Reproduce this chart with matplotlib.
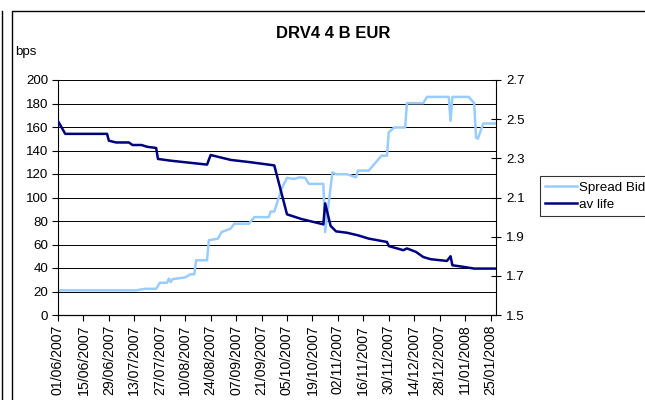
import pandas as pd
import matplotlib
matplotlib.use("Agg")
import matplotlib.pyplot as plt
import matplotlib.dates as mdates
from matplotlib.patches import Rectangle
from matplotlib.lines import Line2D

plt.rcParams['font.family'] = ['Liberation Sans', 'DejaVu Sans']

# Spread Bid (left axis, bps)
spread_dates = ["2007-06-01", "2007-07-14", "2007-07-19", "2007-07-25", "2007-07-27",
                "2007-07-31", "2007-08-01", "2007-08-02", "2007-08-03", "2007-08-10",
                "2007-08-13", "2007-08-15", "2007-08-16", "2007-08-22", "2007-08-23",
                "2007-08-28", "2007-08-30", "2007-09-04", "2007-09-06", "2007-09-14",
                "2007-09-17", "2007-09-25", "2007-09-26", "2007-09-28", "2007-10-02",
                "2007-10-05", "2007-10-09", "2007-10-12", "2007-10-15", "2007-10-17",
                "2007-10-25", "2007-10-26", "2007-10-30", "2007-11-01", "2007-11-07",
                "2007-11-12", "2007-11-13", "2007-11-19", "2007-11-26", "2007-11-29",
                "2007-11-30", "2007-12-03", "2007-12-09", "2007-12-10", "2007-12-19",
                "2007-12-21", "2008-01-02", "2008-01-03", "2008-01-04", "2008-01-13",
                "2008-01-16", "2008-01-17", "2008-01-18", "2008-01-21", "2008-01-28"]
spread_bid = [21, 21, 22.3, 22.3, 27.4,
              27.5, 31, 28, 30.5, 32,
              34.7, 34.7, 46.6, 46.6, 63.6,
              65, 70.6, 73.5, 77.7, 77.7,
              83.3, 83.3, 88, 88, 107.3,
              116.7, 115.8, 117.2, 116.7, 111.6,
              111.6, 70.6, 121.5, 119.8, 119.8,
              117.2, 122.9, 122.9, 135.6, 135.6,
              155.4, 159.6, 159.6, 180.3, 180.3,
              185.6, 185.6, 165.3, 185.6, 185.6,
              180.3, 151.1, 150, 163, 163]

# av life (right axis)
life_dates = ["2007-06-01", "2007-06-05", "2007-06-28", "2007-06-29", "2007-07-03",
              "2007-07-10", "2007-07-12", "2007-07-17", "2007-07-20", "2007-07-25",
              "2007-07-26", "2007-08-02", "2007-08-22", "2007-08-24", "2007-09-04",
              "2007-09-15", "2007-09-28", "2007-10-05", "2007-10-13", "2007-10-25",
              "2007-10-26", "2007-10-29", "2007-11-01", "2007-11-07", "2007-11-13",
              "2007-11-19", "2007-11-29", "2007-11-30", "2007-12-08", "2007-12-10",
              "2007-12-15", "2007-12-19", "2007-12-23", "2008-01-01", "2008-01-03",
              "2008-01-04", "2008-01-10", "2008-01-16", "2008-01-28"]
av_life = [2.49, 2.425, 2.425, 2.39, 2.381,
           2.381, 2.368, 2.368, 2.359, 2.353,
           2.297, 2.288, 2.268, 2.317, 2.292,
           2.28, 2.264, 2.014, 1.99, 1.963,
           2.07, 1.955, 1.927, 1.92, 1.907,
           1.89, 1.873, 1.852, 1.831, 1.84,
           1.822, 1.796, 1.785, 1.776, 1.80,
           1.754, 1.746, 1.737, 1.737]

left_ticks = list(range(0, 201, 20))
right_ticks = [1.5, 1.7, 1.9, 2.1, 2.3, 2.5, 2.7]
date_ticks = pd.date_range("2007-06-01", "2008-01-25", freq="14D")

W, H = 645, 400
fig = plt.figure(figsize=(W / 100, H / 100), dpi=100)
ax = fig.add_axes([58 / W, 1 - 315 / H, (496 - 58) / W, (315 - 80) / H])

ax.plot(pd.to_datetime(spread_dates), spread_bid, color="#99CCFF", lw=1.8, label="Spread Bid")
ax.set_ylim(0, 200)
ax.set_yticks(left_ticks)
ax.set_xlim(pd.Timestamp("2007-06-01"), pd.Timestamp("2008-01-28"))
ax.set_xticks(date_ticks)
ax.xaxis.set_major_formatter(mdates.DateFormatter("%d/%m/%Y"))
ax.yaxis.grid(True, color="black", lw=0.7)
ax.set_axisbelow(True)
for s in ["top", "right"]:
    ax.spines[s].set_visible(False)
ax.tick_params(axis="y", direction="out", length=4, labelsize=9.6, pad=3)
ax.tick_params(axis="x", direction="out", length=4, labelsize=10.2, rotation=90, pad=3)

ax2 = ax.twinx()
ax2.plot(pd.to_datetime(life_dates), av_life, color="#000080", lw=1.8, label="av life")
ax2.set_ylim(1.5, 2.7)
ax2.set_yticks(right_ticks)
ax2.set_yticklabels([f"{v:.1f}" for v in right_ticks])
ax2.tick_params(axis="y", direction="inout", length=7, labelsize=9.6, pad=4)
ax2.spines["top"].set_visible(False)
ax2.spines["left"].set_visible(False)

fig.text(333 / W, 1 - 34 / H, "DRV4 4 B EUR", ha="center", va="center",
         fontsize=12, fontweight="bold")
fig.text(15 / W, 1 - 52 / H, "bps", ha="left", va="center", fontsize=9.6)

handles = ax.get_lines() + ax2.get_lines()
leg = fig.legend(handles, ["Spread Bid", "av life"], loc="upper left",
                 bbox_to_anchor=(540 / W, 1 - 176 / H), fontsize=9.6,
                 frameon=True, fancybox=False, edgecolor="black",
                 handlelength=2.4, handletextpad=0.15, borderpad=0.4,
                 labelspacing=0.35, borderaxespad=0)
leg.get_frame().set_linewidth(0.8)

# chart frame
fig.add_artist(Rectangle((12 / W, -0.1), 1.0, 1 - 11 / H + 0.1, transform=fig.transFigure,
                         fill=False, ec="black", lw=1))
fig.add_artist(Line2D([1.5 / W, 1.5 / W], [0, 1 - 11 / H], transform=fig.transFigure,
                      color="black", lw=1))

fig.savefig("out.png", dpi=100)
